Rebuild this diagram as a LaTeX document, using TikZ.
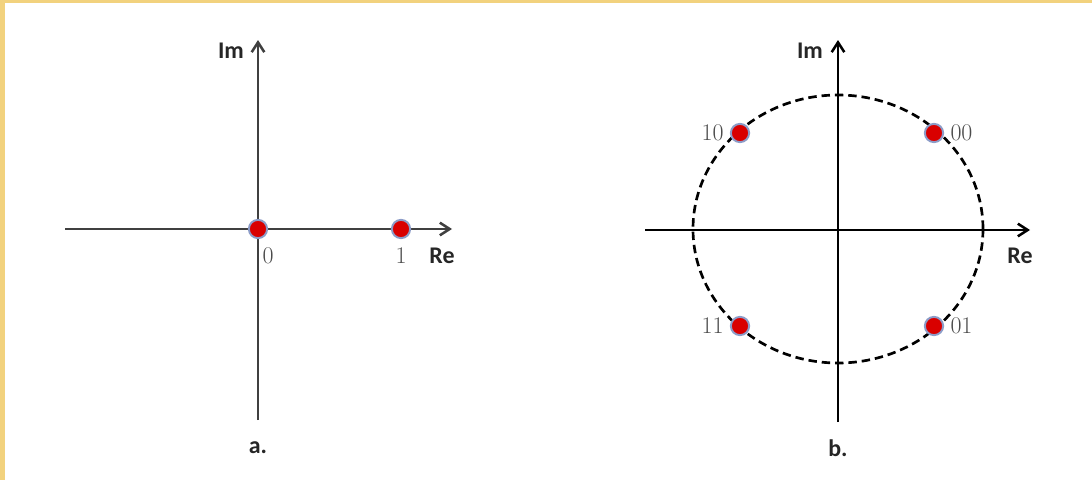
\documentclass[tikz,border=0pt]{standalone}
\usepackage{fontspec}
\newfontfamily\labelfont{Carlito}
\usetikzlibrary{arrows.meta, positioning}

\definecolor{frameyellow}{HTML}{F2D27E}
\definecolor{axisgrey}{HTML}{404040}
\definecolor{dotblue}{HTML}{8C9CC8}

\begin{document}
\begin{tikzpicture}[
    x=0.025cm, y=-0.025cm, >={Straight Barb[length=7pt,width=9pt]},
    axis/.style={draw=axisgrey, line width=1.8pt, ->},
    unitcirc/.style={draw=black, line width=1.9pt, dash pattern=on 6pt off 3.5pt},
    symb/.style={circle, fill=red!85!black, draw=dotblue, line width=1.4pt,
                 minimum size=13pt, inner sep=0pt},
    axlabel/.style={font=\labelfont\bfseries\fontsize{17}{19}\selectfont, text=black!85},
    bits/.style={font=\fontsize{17}{19}\selectfont, text=black!70}
  ]
  \useasboundingbox (0,0) rectangle (1092,480);
  \fill[white] (0,0) rectangle (1092,480);
  \fill[frameyellow] (0,0) rectangle (5,480);
  \fill[frameyellow] (0,0) rectangle (1092,3);

  % a. on-off keying
  \coordinate (aW) at (65,229);
  \coordinate (aE) at (452,229);
  \coordinate (aS) at (258,420);
  \coordinate (aN) at (258,40);
  \draw[axis] (aW) -- (aE);
  \draw[axis] (aS) -- (aN);
  \node[axlabel] (aIm) at (231,51) {Im};
  \node[axlabel] (aRe) at (442,256) {Re};
  \node[symb] (s0) at (258,229) {};
  \node[symb] (s1) at (401,229) {};
  \node[bits] (l0) at (268,256) {0};
  \node[bits] (l1) at (401,256) {1};
  \node[axlabel] (capa) at (258,448) {a.};

  % b. QPSK
  \coordinate (bW) at (645,230);
  \coordinate (bE) at (1030,230);
  \coordinate (bS) at (838,422);
  \coordinate (bN) at (838,40);
  \coordinate (bO) at (838,229);
  \draw[axis, draw=black] (bW) -- (bE);
  \draw[axis, draw=black] (bS) -- (bN);
  \draw[unitcirc] (bO) ellipse [x radius=145, y radius=134];
  \node[axlabel] (bIm) at (810,51) {Im};
  \node[axlabel] (bRe) at (1020,256) {Re};
  \node[symb] (s10) at (740,133) {};
  \node[symb] (s00) at (934,133) {};
  \node[symb] (s11) at (740,326) {};
  \node[symb] (s01) at (934,326) {};
  \node[bits, left=1pt of s10] (l10) {10};
  \node[bits, right=1pt of s00] (l00) {00};
  \node[bits, left=1pt of s11] (l11) {11};
  \node[bits, right=1pt of s01] (l01) {01};
  \node[axlabel] (capb) at (838,448) {b.};
\end{tikzpicture}
\end{document}
